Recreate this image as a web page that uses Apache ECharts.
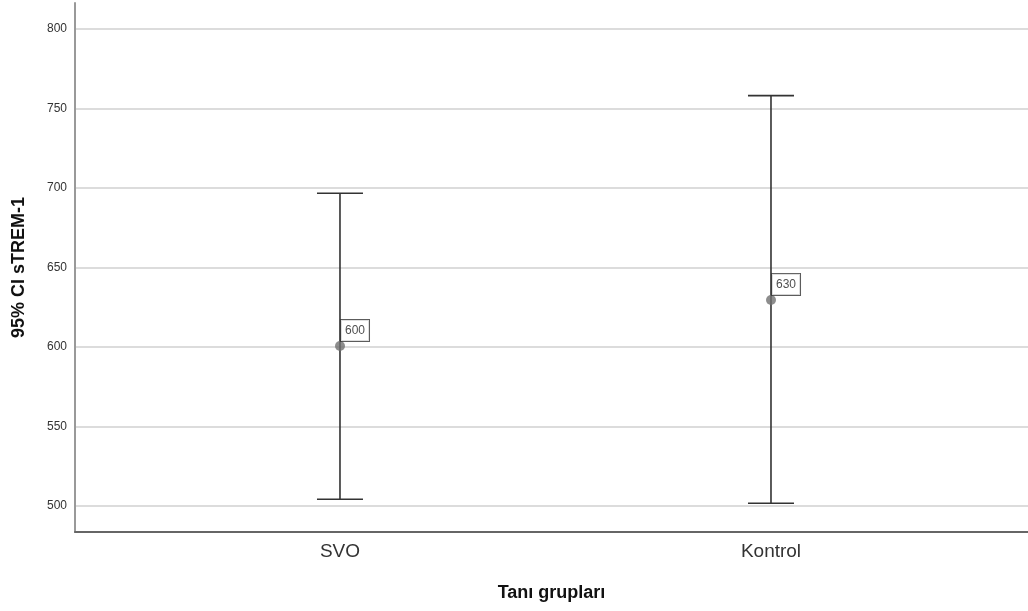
<!DOCTYPE html>
<html>
<head>
<meta charset="utf-8">
<script src="https://cdn.jsdelivr.net/npm/echarts@6/dist/echarts.min.js"></script>
<style>html,body{margin:0;padding:0;background:#fff;}#c{width:1028px;height:611px;}</style>
</head>
<body>
<div id="c"></div>
<script>
const categories = ['SVO', 'Kontrol'];
const means = [600.6, 629.6];
const lowerCI = [504.2, 501.7];
const upperCI = [696.7, 758.1];
const meanLabels = ['600', '630'];
const yTicks = [500, 550, 600, 650, 700, 750, 800];
const catPositions = [0, 1];

const chart = echarts.init(document.getElementById('c'), null, {renderer: 'canvas'});
const errData = categories.map((c, i) => [catPositions[i], lowerCI[i], upperCI[i]]);
const meanData = categories.map((c, i) => [catPositions[i], means[i], meanLabels[i]]);

chart.setOption({
  animation: false,
  backgroundColor: '#fff',
  grid: {left: 75, right: 0, top: 3, bottom: 79, containLabel: false, outerBoundsMode: 'none'},
  xAxis: {
    type: 'value', min: -0.6148, max: 1.5963,
    name: 'Tanı grupları', nameLocation: 'middle', nameGap: 52,
    nameTextStyle: {fontFamily: 'Liberation Sans', fontWeight: 'bold', fontSize: 18, color: '#111'},
    axisLine: {show: true, onZero: false, lineStyle: {color: '#666', width: 2}},
    axisTick: {show: false},
    splitLine: {show: false},
    axisLabel: {customValues: catPositions, formatter: v => categories[Math.round(v)] || '',
      fontFamily: 'Liberation Sans', fontSize: 19, color: '#333', margin: 10}
  },
  yAxis: {
    type: 'value', min: 483.6, max: 816.4,
    name: '95% CI sTREM-1', nameLocation: 'middle', nameGap: 47, nameRotate: 90,
    nameTextStyle: {fontFamily: 'Liberation Sans', fontWeight: 'bold', fontSize: 18, color: '#111'},
    axisLine: {show: true, onZero: false, lineStyle: {color: '#999', width: 2}},
    axisTick: {show: false, customValues: yTicks},
    axisLabel: {customValues: yTicks, fontFamily: 'Liberation Sans', fontSize: 12, color: '#333', margin: 8},
    splitLine: {show: true, lineStyle: {color: '#d0d0d0', width: 1.5}}
  },
  series: [
    {
      type: 'custom',
      data: errData,
      encode: {x: 0, y: [1, 2]},
      renderItem: function (params, api) {
        const x = api.value(0);
        const lo = api.coord([x, api.value(1)]);
        const hi = api.coord([x, api.value(2)]);
        const hw = 23;
        const st = {stroke: '#333', lineWidth: 1.6};
        return {type: 'group', children: [
          {type: 'line', shape: {x1: lo[0], y1: lo[1], x2: hi[0], y2: hi[1]}, style: st},
          {type: 'line', shape: {x1: lo[0] - hw, y1: lo[1], x2: lo[0] + hw, y2: lo[1]}, style: st},
          {type: 'line', shape: {x1: hi[0] - hw, y1: hi[1], x2: hi[0] + hw, y2: hi[1]}, style: st}
        ]};
      },
      z: 2
    },
    {
      type: 'scatter',
      data: meanData,
      symbol: 'circle', symbolSize: 10,
      itemStyle: {color: '#707070'},
      label: {
        show: true, position: [6, -21],
        formatter: p => p.value[2],
        fontFamily: 'Liberation Sans', fontSize: 12, color: '#222',
        backgroundColor: '#fff', borderColor: '#333', borderWidth: 1,
        padding: [4, 4, 3, 4], lineHeight: 14
      },
      z: 3
    }
  ]
});
</script>
</body>
</html>
